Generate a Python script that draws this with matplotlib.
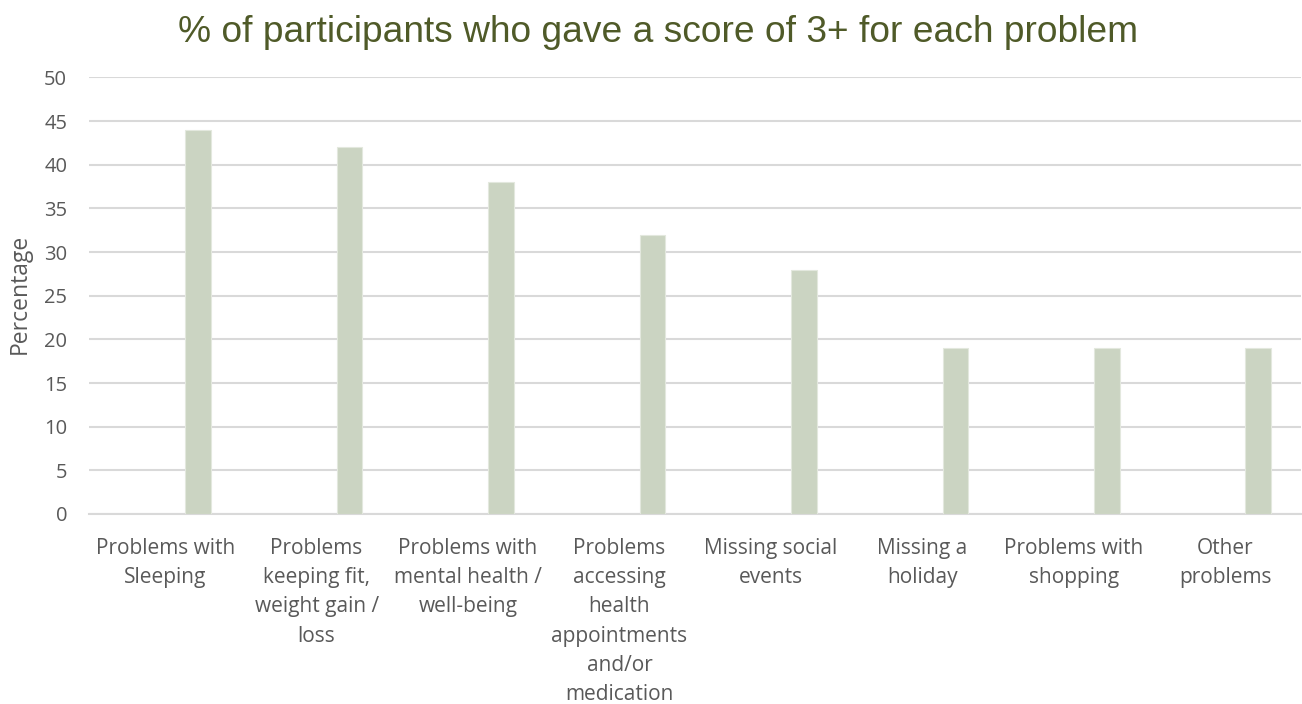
import matplotlib.pyplot as plt
import numpy as np

categories = [
    "Problems with\nSleeping",
    "Problems\nkeeping fit,\nweight gain /\nloss",
    "Problems with\nmental health /\nwell-being",
    "Problems\naccessing\nhealth\nappointments\nand/or\nmedication",
    "Missing social\nevents",
    "Missing a\nholiday",
    "Problems with\nshopping",
    "Other\nproblems",
]
percentages = [44, 42, 38, 32, 28, 19, 19, 19]
y_ticks = [0, 5, 10, 15, 20, 25, 30, 35, 40, 45, 50]

bar_color = "#CBD4C2"
text_color = "#595959"
grid_color = "#D9D9D9"

fig = plt.figure(figsize=(13.02, 7.04), dpi=100)
ax = fig.add_axes([0.0687, 0.2699, 0.9305, 0.6201])

x = np.arange(len(categories))
# the series sits in the right half of each category slot
ax.bar(x + 0.218, percentages, width=0.17, color=bar_color,
       edgecolor="#E3E8DE", linewidth=0.8, zorder=3)

ax.set_xlim(-0.5, len(categories) - 0.5)
ax.set_ylim(0, 50)
ax.set_yticks(y_ticks)
ax.set_xticks(x)
ax.set_xticklabels(categories, fontsize=15, family="Open Sans",
                   color=text_color, linespacing=1.52)
for lbl in ax.get_yticklabels():
    lbl.set_fontsize(14.5)
    lbl.set_family("Open Sans")
    lbl.set_color(text_color)

ax.tick_params(axis="both", length=0)
ax.tick_params(axis="y", pad=16)
ax.tick_params(axis="x", pad=17)

ax.grid(axis="y", color=grid_color, linewidth=1.5, zorder=0)
for side in ["top", "right", "left"]:
    ax.spines[side].set_visible(False)
ax.spines["bottom"].set_color(grid_color)
ax.spines["bottom"].set_linewidth(1.5)

ax.set_ylabel("Percentage", fontsize=16.5, family="Open Sans",
              color=text_color)
ax.yaxis.set_label_coords(-0.048, 0.505)

fig.text(0.5054, 0.954, "% of participants who gave a score of 3+ for each problem",
         ha="center", va="center", fontsize=26.7, family="Liberation Sans",
         color="#4F5A28")

fig.savefig("out.png", dpi=100)
